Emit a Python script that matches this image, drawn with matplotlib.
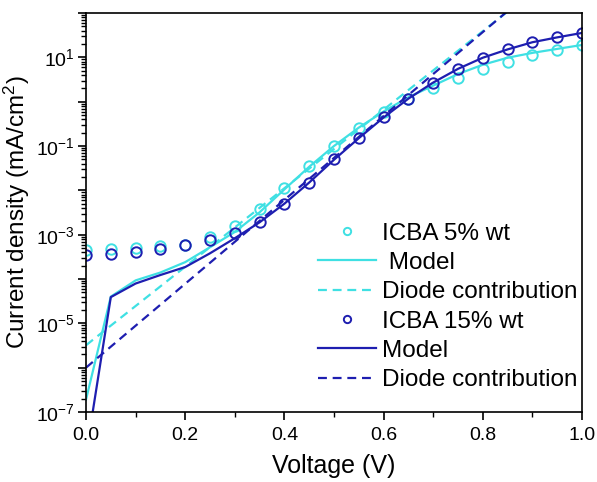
import math

import matplotlib
matplotlib.use("Agg")
import matplotlib.pyplot as plt
import matplotlib.ticker as ticker

# measured J-V data (mA/cm^2)
voltage = [0.00, 0.05, 0.10, 0.15, 0.20, 0.25, 0.30, 0.35, 0.40, 0.45, 0.50,
           0.55, 0.60, 0.65, 0.70, 0.75, 0.80, 0.85, 0.90, 0.95, 1.00]

icba5_data = [4.5e-4, 4.7e-4, 4.9e-4, 5.5e-4, 6.0e-4, 8.7e-4, 1.55e-3, 3.7e-3,
              1.12e-2, 3.5e-2, 9.8e-2, 0.25, 0.58, 1.17, 2.04, 3.47, 5.5, 7.8,
              11.0, 14.8, 19.1]
icba15_data = [3.5e-4, 3.6e-4, 4.0e-4, 4.7e-4, 5.8e-4, 7.4e-4, 1.07e-3, 1.9e-3,
               4.8e-3, 1.5e-2, 5.0e-2, 0.155, 0.44, 1.16, 2.6, 5.5, 9.8, 15.5,
               21.9, 28.8, 36.3]

icba5_model = [1.9e-7, 4.0e-5, 9.3e-5, 1.4e-4, 2.4e-4, 5.2e-4, 1.15e-3, 3.2e-3,
               1.05e-2, 3.4e-2, 0.10, 0.26, 0.60, 1.26, 2.3, 4.2, 6.8, 9.8,
               12.6, 15.5, 19.0]
icba15_model = [1.1e-8, 3.9e-5, 7.9e-5, 1.23e-4, 1.86e-4, 3.8e-4, 8.3e-4, 1.9e-3,
                5.0e-3, 1.5e-2, 4.9e-2, 0.15, 0.44, 1.17, 2.7, 5.5, 9.8, 15.1,
                21.9, 28.2, 35.5]

# diode contribution: straight line on log scale, given by its end points
diode_v = [0.0, 1.0]
icba5_diode = [3.2e-6, 2.3e3]
icba15_diode = [1.0e-6, 2.9e3]

CYAN = "#3fe0e3"
BLUE = "#1e1eb0"

plt.rcParams["font.family"] = "Liberation Sans"
plt.rcParams["mathtext.fontset"] = "custom"
plt.rcParams["mathtext.rm"] = "Liberation Sans"
plt.rcParams["mathtext.it"] = "Liberation Sans:italic"
plt.rcParams["mathtext.bf"] = "Liberation Sans:bold"

fig = plt.figure(figsize=(5.97, 4.82), dpi=100)
ax = fig.add_axes([86 / 597, 70 / 482, 496 / 597, 399 / 482])

lw = 1.6
dash = (4.0, 2.6)
ax.plot(voltage, icba5_data, "o", mfc="none", mec=CYAN, ms=7.5, mew=1.4,
        label="ICBA 5% wt")
ax.plot(voltage, icba5_model, "-", color=CYAN, lw=lw, label=" Model")
ax.plot(diode_v, icba5_diode, "--", color=CYAN, lw=lw, dashes=dash,
        label="Diode contribution")
ax.plot(voltage, icba15_data, "o", mfc="none", mec=BLUE, ms=7.5, mew=1.4,
        label="ICBA 15% wt")
ax.plot(voltage, icba15_model, "-", color=BLUE, lw=lw, label="Model")
ax.plot(diode_v, icba15_diode, "--", color=BLUE, lw=lw, dashes=dash,
        label="Diode contribution")

ax.set_yscale("log")
ax.set_xlim(0, 1)
ax.set_ylim(1e-7, 1e2)

ax.xaxis.set_major_locator(ticker.MultipleLocator(0.2))
ax.xaxis.set_minor_locator(ticker.MultipleLocator(0.1))
ax.xaxis.set_major_formatter(ticker.FormatStrFormatter("%.1f"))

ax.yaxis.set_major_locator(ticker.LogLocator(base=10, numticks=20))
ax.yaxis.set_minor_locator(ticker.LogLocator(base=10, subs=range(2, 10), numticks=20))


def ylabel_fmt(val, pos):
    e = int(round(math.log10(val)))
    if e % 2 == 0:
        return ""
    return r"$\mathregular{10^{%d}}$" % e


ax.yaxis.set_major_formatter(ticker.FuncFormatter(ylabel_fmt))
ax.yaxis.set_minor_formatter(ticker.NullFormatter())

ax.tick_params(which="major", direction="out", length=6, width=1.2,
               labelsize=14, top=False, right=False)
ax.tick_params(axis="x", which="major", pad=5)
ax.tick_params(axis="y", which="major", pad=2)
ax.tick_params(which="minor", direction="out", length=3.5, width=1.0,
               top=False, right=False)
for s in ax.spines.values():
    s.set_linewidth(1.2)

ax.set_xlabel("Voltage (V)", fontsize=18, labelpad=7)
ax.set_ylabel(r"Current density (mA/cm$\mathregular{^2}$)", fontsize=17.5)
ax.yaxis.set_label_coords(-0.108, 0.5)

leg = ax.legend(loc="lower right", bbox_to_anchor=(1.0, 0.04), frameon=False,
                fontsize=17.5, handlelength=2.35, handletextpad=0.25,
                labelspacing=0.3, borderaxespad=0.0, borderpad=0.2,
                markerscale=0.7)

fig.savefig("out.png", dpi=100)
